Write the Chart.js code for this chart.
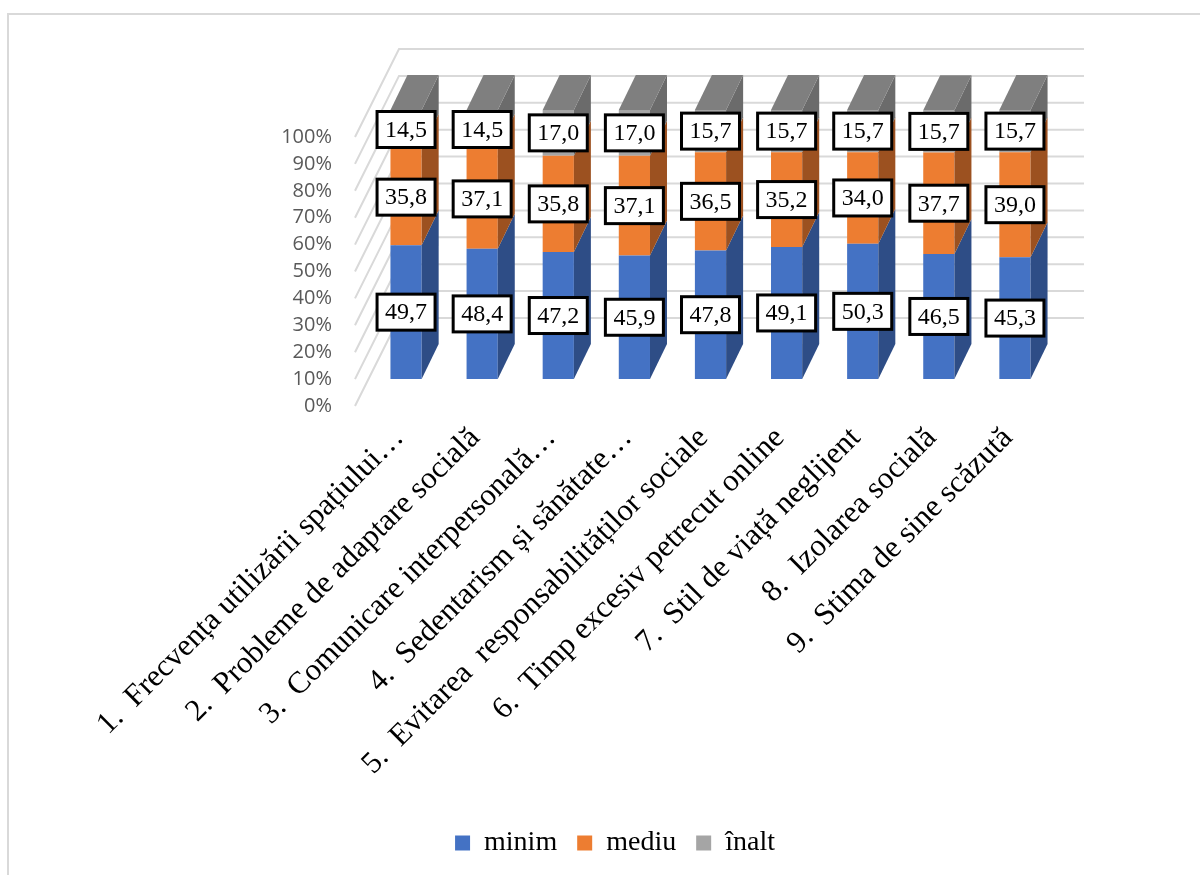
<!DOCTYPE html>
<html>
<head>
<meta charset="utf-8">
<script src="https://cdn.jsdelivr.net/npm/chart.js@4"></script>
<style>
  body { margin: 0; background: #fff; }
  #wrap { position: relative; width: 1200px; height: 875px; overflow: hidden; }
  #frame { position: absolute; left: 7px; top: 13px; width: 1300px; height: 1000px;
           border: 2px solid #d9d9d9; pointer-events: none; }
</style>
</head>
<body>
<div id="wrap">
  <canvas id="chart" width="1200" height="875"></canvas>
  <div id="frame"></div>
</div>
<script>
const labels = [
  '1.  Frecvența utilizării spațiului…',
  '2.  Probleme de adaptare socială',
  '3.  Comunicare interpersonală…',
  '4.  Sedentarism și sănătate…',
  '5.  Evitarea  responsabilităților sociale',
  '6.  Timp excesiv petrecut online',
  '7.  Stil de viață neglijent',
  '8.  Izolarea socială',
  '9.  Stima de sine scăzută'
];
const minim = [49.7, 48.4, 47.2, 45.9, 47.8, 49.1, 50.3, 46.5, 45.3];
const mediu = [35.8, 37.1, 35.8, 37.1, 36.5, 35.2, 34.0, 37.7, 39.0];
const inalt = [14.5, 14.5, 17.0, 17.0, 15.7, 15.7, 15.7, 15.7, 15.7];

const serif = "'Times New Roman', 'Liberation Serif', serif";

// fake 3d: bar depth, wall depth and how far the bars sit behind the front plane
const BAR_DX = 17, BAR_DY = 35;
const WALL_DX = 44, WALL_DY = 88;
const SHIFT_X = 13, SHIFT_Y = -27;
const sideColors = ['#2e4d86', '#9c5120', '#6b6b6b'];
const topColor = '#7f7f7f';

const fmt = v => v.toFixed(1).replace('.', ',');

const box3d = {
  id: 'box3d',
  beforeDatasetsDraw(chart) {
    const {ctx, chartArea: a, scales: {y}} = chart;
    ctx.save();
    ctx.strokeStyle = '#d9d9d9';
    ctx.lineWidth = 2;
    y.ticks.forEach(t => {
      const py = y.getPixelForValue(t.value);
      ctx.beginPath();
      ctx.moveTo(a.left, py);
      ctx.lineTo(a.left + WALL_DX, py - WALL_DY);
      ctx.lineTo(a.right + WALL_DX, py - WALL_DY);
      ctx.stroke();
    });
    ctx.restore();
    ctx.save();
    ctx.translate(SHIFT_X, SHIFT_Y);
  },
  afterDatasetsDraw(chart) {
    const ctx = chart.ctx;
    const n = chart.data.datasets.length;
    chart.data.datasets.forEach((ds, di) => {
      chart.getDatasetMeta(di).data.forEach(bar => {
        const {x, y, base, width} = bar.getProps(['x', 'y', 'base', 'width'], true);
        const xl = x - width / 2, xr = x + width / 2;
        ctx.fillStyle = sideColors[di];
        ctx.beginPath();
        ctx.moveTo(xr, y);
        ctx.lineTo(xr + BAR_DX, y - BAR_DY);
        ctx.lineTo(xr + BAR_DX, base - BAR_DY);
        ctx.lineTo(xr, base);
        ctx.closePath();
        ctx.fill();
        if (di === n - 1) {
          ctx.fillStyle = topColor;
          ctx.beginPath();
          ctx.moveTo(xl, y);
          ctx.lineTo(xr, y);
          ctx.lineTo(xr + BAR_DX, y - BAR_DY);
          ctx.lineTo(xl + BAR_DX, y - BAR_DY);
          ctx.closePath();
          ctx.fill();
        }
      });
    });
    // value boxes
    ctx.font = '24px ' + serif;
    ctx.textAlign = 'center';
    ctx.textBaseline = 'middle';
    chart.data.datasets.forEach((ds, di) => {
      chart.getDatasetMeta(di).data.forEach((bar, i) => {
        const {x, y, base} = bar.getProps(['x', 'y', 'base'], true);
        const cy = (y + base) / 2;
        ctx.fillStyle = '#fff';
        ctx.fillRect(x - 29, cy - 18, 58, 36);
        ctx.strokeStyle = '#000';
        ctx.lineWidth = 3;
        ctx.strokeRect(x - 29, cy - 18, 58, 36);
        ctx.fillStyle = '#000';
        ctx.fillText(fmt(ds.data[i]), x, cy + 1);
      });
    });
    ctx.restore();
  }
};

const ctx = document.getElementById('chart').getContext('2d');

new Chart(ctx, {
  type: 'bar',
  data: {
    labels: labels,
    datasets: [
      { label: 'minim', data: minim, backgroundColor: '#4472c4' },
      { label: 'mediu', data: mediu, backgroundColor: '#ed7d31' },
      { label: 'înalt', data: inalt, backgroundColor: '#a5a5a5' }
    ]
  },
  options: {
    responsive: false,
    animation: false,
    events: [],
    clip: false,
    barPercentage: 0.41,
    categoryPercentage: 1,
    layout: {
      padding: { top: 137, left: 30, right: 0, bottom: 8 }
    },
    plugins: {
      tooltip: { enabled: false },
      legend: {
        position: 'bottom',
        labels: {
          boxWidth: 15,
          boxHeight: 15,
          padding: 20,
          color: '#000',
          font: { family: serif, size: 28 }
        }
      }
    },
    scales: {
      x: {
        stacked: true,
        grid: { display: false },
        border: { display: false },
        afterFit: s => { s.height = 403; },
        ticks: {
          autoSkip: false,
          maxRotation: 45,
          minRotation: 45,
          padding: 6,
          labelOffset: 6,
          color: '#000',
          font: { family: serif, size: 31 }
        }
      },
      y: {
        stacked: true,
        min: 0,
        max: 100,
        grid: { display: false },
        border: { display: false },
        afterFit: s => { s.width = 325; },
        ticks: {
          stepSize: 10,
          autoSkip: false,
          padding: 15,
          color: '#595959',
          font: { family: "'Open Sans', sans-serif", size: 20 },
          callback: v => v + '%'
        }
      },
      // empty right-hand axis, only keeps room beside the plot
      yr: {
        type: 'linear',
        axis: 'y',
        position: 'right',
        grid: { display: false },
        border: { display: false },
        ticks: { display: false },
        afterFit: s => { s.width = 160; }
      }
    }
  },
  plugins: [box3d]
});
</script>
</body>
</html>
